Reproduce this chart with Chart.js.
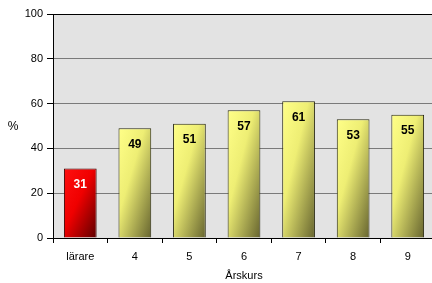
<!DOCTYPE html>
<html>
<head>
<meta charset="utf-8">
<script src="https://cdn.jsdelivr.net/npm/chart.js@4"></script>
<style>
  html, body { margin: 0; padding: 0; background: #fff; overflow: hidden; }
  #wrap { width: 436px; height: 283px; }
</style>
</head>
<body>
<div id="wrap"><canvas id="chart"></canvas></div>
<script>
// data
const categories = ["lärare", "4", "5", "6", "7", "8", "9"];
const values = [31, 49, 51, 57, 61, 53, 55];
const yTicks = [0, 20, 40, 60, 80, 100];

const FONT = "'Liberation Sans', Arial, sans-serif";

// plot background, diagonal gradient fills on bars, value labels, "%" title
const decor = {
  id: "decor",
  beforeDraw(chart) {
    const { ctx, chartArea: a } = chart;
    ctx.save();
    ctx.fillStyle = "#e3e3e3";
    ctx.fillRect(a.left, a.top, a.right - a.left, a.bottom - a.top);
    ctx.restore();
  },
  beforeDatasetsDraw(chart) {
    const ctx = chart.ctx;
    chart.getDatasetMeta(0).data.forEach((bar, i) => {
      const w = bar.width, h = Math.abs(bar.base - bar.y);
      const x0 = bar.x - w / 2, y0 = bar.y;
      // isolines parallel to the box diagonal (top-right -> bottom-left)
      const t = (2 * w * h) / (w * w + h * h);
      const g = ctx.createLinearGradient(x0, y0, x0 + h * t, y0 + w * t);
      if (i === 0) {
        g.addColorStop(0, "#ff1010");
        g.addColorStop(0.45, "#f00000");
        g.addColorStop(1, "#5e0000");
      } else {
        g.addColorStop(0, "#ffff88");
        g.addColorStop(0.4, "#eeee74");
        g.addColorStop(1, "#66642f");
      }
      bar.options.backgroundColor = g;
    });
  },
  afterDatasetsDraw(chart) {
    const ctx = chart.ctx;
    ctx.save();
    ctx.font = "bold 12px " + FONT;
    ctx.textAlign = "center";
    ctx.textBaseline = "middle";
    chart.getDatasetMeta(0).data.forEach((bar, i) => {
      ctx.fillStyle = i === 0 ? "#ffffff" : "#000000";
      ctx.fillText(String(values[i]), bar.x, bar.y + 16);
    });
    ctx.restore();
  },
  afterDraw(chart) {
    const ctx = chart.ctx;
    const a = chart.chartArea;
    ctx.save();
    ctx.font = "12px " + FONT;
    ctx.fillStyle = "#000";
    ctx.textAlign = "center";
    ctx.textBaseline = "middle";
    ctx.fillText("%", 13, (a.top + a.bottom) / 2 + 1);
    ctx.restore();
  }
};

new Chart(document.getElementById("chart"), {
  type: "bar",
  data: {
    labels: categories,
    datasets: [{
      data: values,
      backgroundColor: "#ffff80",
      borderColor: values.map((v, i) => i === 0 ? "#3a0000" : "#2a2a10"),
      borderWidth: 1,
      categoryPercentage: 1,
      barPercentage: 0.6
    }]
  },
  options: {
    responsive: true,
    maintainAspectRatio: false,
    animation: false,
    events: [],
    layout: { padding: { top: 14, right: 1, left: 0, bottom: 0 } },
    plugins: { legend: { display: false }, tooltip: { enabled: false } },
    scales: {
      x: {
        offset: true,
        grid: { offset: true, drawOnChartArea: false, drawTicks: true, tickLength: 5, color: "#000" },
        border: { color: "#000", width: 1 },
        ticks: { color: "#000", font: { family: FONT, size: 11 }, padding: 7 },
        title: { display: true, text: "Årskurs", color: "#000", font: { family: FONT, size: 11 }, padding: { top: 3, bottom: 0 } },
        afterFit(s) { s.height = 45; }
      },
      y: {
        min: 0,
        max: 100,
        afterBuildTicks(s) { s.ticks = yTicks.map(v => ({ value: v })); },
        grid: {
          color: ctx => ctx.tick && ctx.tick.value === 100 ? "#000" : "#7a7a7a",
          lineWidth: 1,
          tickLength: 6,
          tickColor: "#000"
        },
        border: { color: "#000", width: 1 },
        ticks: { color: "#000", font: { family: FONT, size: 11 }, padding: 4 },
        afterFit(s) { s.width = 53; }
      }
    }
  },
  plugins: [decor]
});
</script>
</body>
</html>
